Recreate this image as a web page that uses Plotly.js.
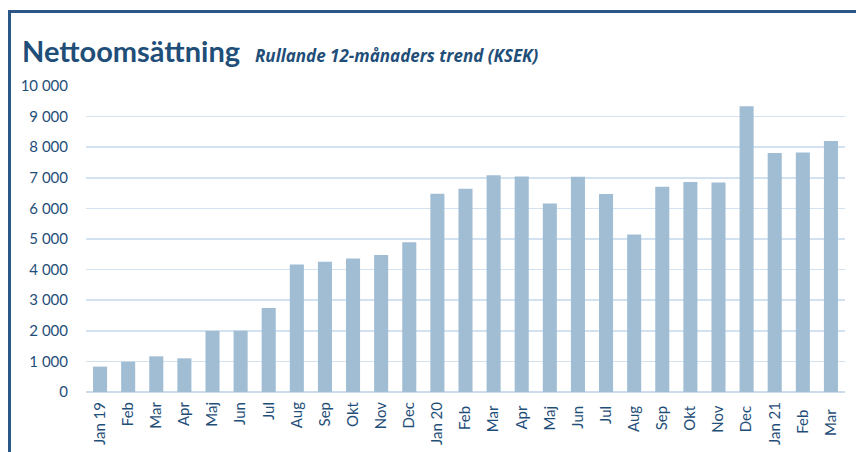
<!DOCTYPE html>
<html>
<head>
<meta charset="utf-8">
<script src="https://cdn.plot.ly/plotly-3.0.1.min.js"></script>
<style>
  html, body { margin: 0; padding: 0; background: #ffffff; }
  #wrap { position: relative; width: 856px; height: 452px; overflow: hidden; }
  #chart { position: absolute; left: 0; top: 0; width: 856px; height: 452px; }
  #frame { position: absolute; left: 8px; top: 10px; width: 860px; height: 460px;
           border-top: 3px solid #2a5785; border-left: 3px solid #2a5785; pointer-events: none; }
</style>
</head>
<body>
<div id="wrap">
  <div id="chart"></div>
  <div id="frame"></div>
</div>
<script>
const categories = ["Jan 19","Feb","Mar","Apr","Maj","Jun","Jul","Aug","Sep","Okt","Nov","Dec",
                    "Jan 20","Feb ","Mar ","Apr ","Maj ","Jun ","Jul ","Aug ","Sep ","Okt ","Nov ","Dec ",
                    "Jan 21","Feb  ","Mar  "];
const values = [830, 990, 1165, 1100, 1995, 2000, 2745, 4170, 4260, 4360, 4480, 4890,
                6475, 6645, 7080, 7045, 6160, 7035, 6470, 5145, 6705, 6865, 6850, 9340,
                7810, 7830, 8200];
const yTicks = [0,1000,2000,3000,4000,5000,6000,7000,8000,9000,10000];

const navy = "#1f4e79";

const data = [{
  type: "bar",
  x: categories,
  y: values,
  marker: { color: "#a0bdd4", line: { width: 0 } },
  hoverinfo: "skip"
}];

const layout = {
  width: 856,
  height: 452,
  margin: { l: 86, r: 11, t: 86, b: 60 },
  paper_bgcolor: "#ffffff",
  plot_bgcolor: "#ffffff",
  separators: ", ",
  showlegend: false,
  bargap: 0.5,
  font: { family: "Lato, 'Open Sans', sans-serif", color: navy },
  title: {
    text: "<b>Nettoomsättning</b>  <span style='font-size:17px;font-family:\"Open Sans\"'><b><i>Rullande 12-månaders trend (KSEK)</i></b></span>",
    font: { family: "Lato, 'Open Sans', sans-serif", size: 29, color: navy },
    x: 22/856, xanchor: "left", xref: "container",
    y: 1 - 52/452, yanchor: "middle", yref: "container"
  },
  xaxis: {
    type: "category",
    tickangle: -90,
    tickfont: { size: 15, color: navy },
    showgrid: false,
    showline: false,
    ticks: "outside",
    ticklen: 3,
    tickcolor: "rgba(0,0,0,0)",
    fixedrange: true
  },
  yaxis: {
    range: [0, 10000],
    tickvals: yTicks,
    tickformat: ",d",
    tickfont: { size: 15, color: navy },
    showgrid: true,
    gridcolor: "#d3e2f0",
    gridwidth: 1.5,
    zeroline: true,
    zerolinecolor: "#cddcec",
    zerolinewidth: 2,
    showline: false,
    ticks: "outside",
    ticklen: 14,
    tickcolor: "rgba(0,0,0,0)",
    fixedrange: true
  }
};

Plotly.newPlot("chart", data, layout, { displayModeBar: false, staticPlot: true });
</script>
</body>
</html>
